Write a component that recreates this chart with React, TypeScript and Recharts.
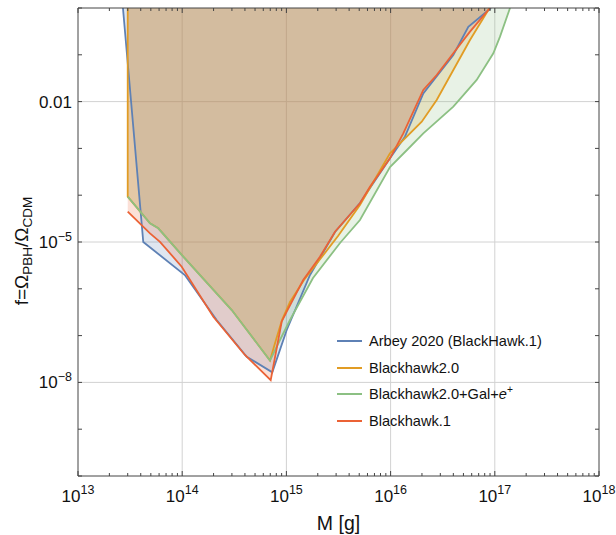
import React from "react";
import { ComposedChart, Area, Line, XAxis, YAxis, CartesianGrid, Legend } from "recharts";

const FONT = '"Liberation Sans", Arial, Helvetica, sans-serif';
const AXIS = "#444444";
const GRID = "#d2d2d2";

// Arbey 2020 (BlackHawk.1)
const arbeyM = [2.7e13, 4.23e13, 1.06e14, 2.14e14, 4.16e14, 7.32e14, 1.007e15, 1.685e15, 2.93e15, 5.08e15, 9.87e15, 1.374e16, 2.06e16, 4.0e16, 5.57e16, 9.2e16];
const arbeyF = [1, 1.0e-5, 1.97e-6, 2.15e-7, 3.54e-8, 1.64e-8, 1.32e-7, 1.97e-6, 1.64e-5, 6.81e-5, 6.14e-4, 1.78e-3, 1.5e-2, 9.9e-2, 0.398, 1];

// Blackhawk2.0
const bh2M = [3.0e13, 3.0e13, 4.91e13, 5.9e13, 1.024e14, 2.99e14, 6.96e14, 7.94e14, 9.07e14, 1.083e15, 1.475e15, 2.15e15, 3.13e15, 5.08e15, 9.87e15, 1.99e16, 2.77e16, 4.0e16, 5.78e16, 8.9e16];
const bh2F = [1, 9.29e-5, 2.51e-5, 1.96e-5, 4.85e-6, 3.52e-7, 2.94e-8, 8.05e-8, 2.15e-7, 5.22e-7, 1.54e-6, 4.55e-6, 1.34e-5, 6.18e-5, 7.86e-4, 3.72e-3, 1.08e-2, 4.73e-2, 0.207, 1];

// Blackhawk2.0+Gal+e+
const galM = [3.0e13, 4.91e13, 5.9e13, 1.024e14, 2.99e14, 6.96e14, 8.68e14, 1.083e15, 1.8e15, 3.27e15, 5.08e15, 9.87e15, 1.436e16, 2.06e16, 4.0e16, 6.7e16, 9.68e16, 1.122e17, 1.4e17];
const galF = [9.29e-5, 2.51e-5, 1.96e-5, 4.85e-6, 3.52e-7, 2.94e-8, 8.05e-8, 2.15e-7, 1.7e-6, 9.52e-6, 2.95e-5, 4.0e-4, 9.24e-4, 2.1e-3, 7.78e-3, 2.9e-2, 0.108, 0.244, 1];

// Blackhawk.1
const bh1M = [3.0e13, 4.91e13, 6.12e13, 9.89e13, 1.99e14, 4.0e14, 7.07e14, 9.01e14, 1.007e15, 1.45e15, 2.1e15, 2.93e15, 5.08e15, 6.34e15, 9.87e15, 1.324e16, 2.06e16, 2.77e16, 4.0e16, 5.78e16, 9.0e16];
const bh1F = [4.44e-5, 1.53e-5, 1.01e-5, 2.97e-6, 2.53e-7, 3.85e-8, 1.12e-8, 1.98e-7, 3.24e-7, 1.54e-6, 4.85e-6, 1.66e-5, 6.71e-5, 1.52e-4, 6.14e-4, 2.1e-3, 1.77e-2, 3.7e-2, 0.108, 0.312, 1];

const xDomain = [1e13, 1e18];
const yDomain = [1e-10, 1];
const xMajor = [1e13, 1e14, 1e15, 1e16, 1e17, 1e18];
const xMinorMult = [2, 3, 4, 5, 6, 7, 8, 9];
const yTicks = [1e-10, 1e-9, 1e-8, 1e-7, 1e-6, 1e-5, 1e-4, 1e-3, 1e-2, 1e-1, 1];
const yLabeled = [1e-2, 1e-5, 1e-8];
const gridX = [1e14, 1e15, 1e16, 1e17];
const gridY = [1e-2, 1e-5, 1e-8];

const xTicks: number[] = [];
xMajor.forEach((m, i) => {
  xTicks.push(m);
  if (i < xMajor.length - 1) xMinorMult.forEach((k) => xTicks.push(k * m));
});

const rows = (M: number[], F: number[]) => M.map((m, i) => ({ M: m, f: F[i] }));

const series = [
  { key: "arbey", name: "Arbey 2020 (BlackHawk.1)", color: "#5E81B5", data: rows(arbeyM, arbeyF) },
  { key: "bh2", name: "Blackhawk2.0", color: "#E19C24", data: rows(bh2M, bh2F) },
  { key: "gal", name: "Blackhawk2.0+Gal+e+", color: "#8CC083", data: rows(galM, galF) },
  { key: "bh1", name: "Blackhawk.1", color: "#EB6235", data: rows(bh1M, bh1F) },
];

const isDecade = (v: number) => Math.abs(Math.log10(v) - Math.round(Math.log10(v))) < 1e-6;
const expOf = (v: number) => Math.round(Math.log10(v));
const supText = (e: number) => (e < 0 ? "\u2212" + String(-e) : String(e));

const BottomTick = (props: any) => {
  const { x, y, payload } = props;
  const v = payload.value;
  const major = isDecade(v);
  return (
    <g>
      <line x1={x} x2={x} y1={y} y2={y - (major ? 5 : 3)} stroke={AXIS} strokeWidth={1} />
      {major && (
        <text x={x} y={y + 26} textAnchor="middle" fontSize={17} fontFamily={FONT} fill="#111">
          <tspan>10</tspan>
          <tspan dy={-8} fontSize={12.5}>{supText(expOf(v))}</tspan>
        </text>
      )}
    </g>
  );
};

const TopTick = (props: any) => {
  const { x, y, payload } = props;
  const major = isDecade(payload.value);
  return <line x1={x} x2={x} y1={y} y2={y + (major ? 5 : 3)} stroke={AXIS} strokeWidth={1} />;
};

const LeftTick = (props: any) => {
  const { x, y, payload } = props;
  const v = payload.value;
  const labeled = yLabeled.some((t) => Math.abs(Math.log10(t) - Math.log10(v)) < 1e-6);
  const e = expOf(v);
  return (
    <g>
      <line x1={x} x2={x + 4} y1={y} y2={y} stroke={AXIS} strokeWidth={1} />
      {labeled && (
        <text x={x - 6} y={y + 6} textAnchor="end" fontSize={17} fontFamily={FONT} fill="#111">
          {e === -2 ? (
            "0.01"
          ) : (
            <>
              <tspan>10</tspan>
              <tspan dy={-7} fontSize={12.5}>{supText(e)}</tspan>
            </>
          )}
        </text>
      )}
    </g>
  );
};

const RightTick = (props: any) => {
  const { x, y } = props;
  return <line x1={x} x2={x - 4} y1={y} y2={y} stroke={AXIS} strokeWidth={1} />;
};

const XTitle = (props: any) => {
  const vb = props.viewBox || { x: 0, y: 0, width: 0, height: 0 };
  return (
    <text x={vb.x + vb.width / 2} y={vb.y + 54} textAnchor="middle" fontSize={19.5} fontFamily={FONT} fill="#111">
      M [g]
    </text>
  );
};

const YTitle = (props: any) => {
  const vb = props.viewBox || { x: 0, y: 0, width: 0, height: 0 };
  const cx = vb.x + 28;
  const cy = vb.y + vb.height / 2 + 9;
  return (
    <text x={cx} y={cy} transform={`rotate(-90 ${cx} ${cy})`} textAnchor="middle" fontSize={19} fontFamily={FONT} fill="#111">
      <tspan>f=Ω</tspan>
      <tspan dy={4} fontSize={13.5}>PBH</tspan>
      <tspan dy={-4}>/Ω</tspan>
      <tspan dy={4} fontSize={13.5}>CDM</tspan>
    </text>
  );
};

const legendLabel = (name: string) => {
  if (name === "Blackhawk2.0+Gal+e+") {
    return (
      <span>
        Blackhawk2.0+Gal+<i>e</i>
        <sup style={{ fontSize: "0.7em", verticalAlign: "0.55em", lineHeight: 0 }}>+</sup>
      </span>
    );
  }
  return <span>{name}</span>;
};

const LegendBox = () => (
  <div style={{ fontFamily: FONT, fontSize: 14.6, color: "#111" }}>
    {series.map((s) => (
      <div key={s.key} style={{ display: "flex", alignItems: "center", height: 26.7, whiteSpace: "nowrap" }}>
        <div style={{ width: 25, height: 2, background: s.color, marginRight: 7 }} />
        {legendLabel(s.name)}
      </div>
    ))}
  </div>
);

export default function App() {
  return (
    <div style={{ position: "absolute", left: 0, top: 0, width: 616, height: 535, background: "#fff" }}>
      <ComposedChart width={616} height={535} margin={{ top: 7, right: 16, bottom: 0, left: 0 }}>
        <CartesianGrid
          xAxisId="b"
          yAxisId="l"
          stroke={GRID}
          strokeWidth={1}
          verticalValues={gridX}
          horizontalValues={gridY}
        />
        <XAxis
          xAxisId="b"
          dataKey="M"
          type="number"
          scale="log"
          domain={xDomain}
          allowDataOverflow
          ticks={xTicks}
          interval={0}
          orientation="bottom"
          height={59}
          tickSize={0}
          tickMargin={0}
          tickLine={false}
          axisLine={{ stroke: AXIS }}
          tick={<BottomTick />}
          label={<XTitle />}
        />
        <XAxis
          xAxisId="t"
          dataKey="M"
          type="number"
          scale="log"
          domain={xDomain}
          allowDataOverflow
          ticks={xTicks}
          interval={0}
          orientation="top"
          height={1}
          tickSize={0}
          tickMargin={0}
          tickLine={false}
          axisLine={{ stroke: AXIS }}
          tick={<TopTick />}
        />
        <YAxis
          yAxisId="l"
          type="number"
          scale="log"
          domain={yDomain}
          allowDataOverflow
          ticks={yTicks}
          interval={0}
          width={78}
          tickSize={0}
          tickMargin={0}
          tickLine={false}
          axisLine={{ stroke: AXIS }}
          tick={<LeftTick />}
          label={<YTitle />}
        />
        <YAxis
          yAxisId="r"
          orientation="right"
          type="number"
          scale="log"
          domain={yDomain}
          allowDataOverflow
          ticks={yTicks}
          interval={0}
          width={1}
          tickSize={0}
          tickMargin={0}
          tickLine={false}
          axisLine={{ stroke: AXIS }}
          tick={<RightTick />}
        />
        {series.map((s) => (
          <Area
            key={"a" + s.key}
            data={s.data}
            dataKey="f"
            xAxisId="b"
            yAxisId="l"
            type="linear"
            baseValue={1}
            stroke="none"
            fill={s.color}
            fillOpacity={0.2}
            isAnimationActive={false}
            legendType="none"
          />
        ))}
        {series.map((s) => (
          <Line
            key={"l" + s.key}
            data={s.data}
            dataKey="f"
            name={s.name}
            xAxisId="b"
            yAxisId="l"
            type="linear"
            stroke={s.color}
            strokeWidth={1.8}
            dot={false}
            activeDot={false}
            isAnimationActive={false}
          />
        ))}
        <Legend
          layout="vertical"
          align="center"
          verticalAlign="middle"
          content={<LegendBox />}
          wrapperStyle={{ left: 337, top: 327.6, width: 260, height: 108 }}
        />
      </ComposedChart>
    </div>
  );
}
